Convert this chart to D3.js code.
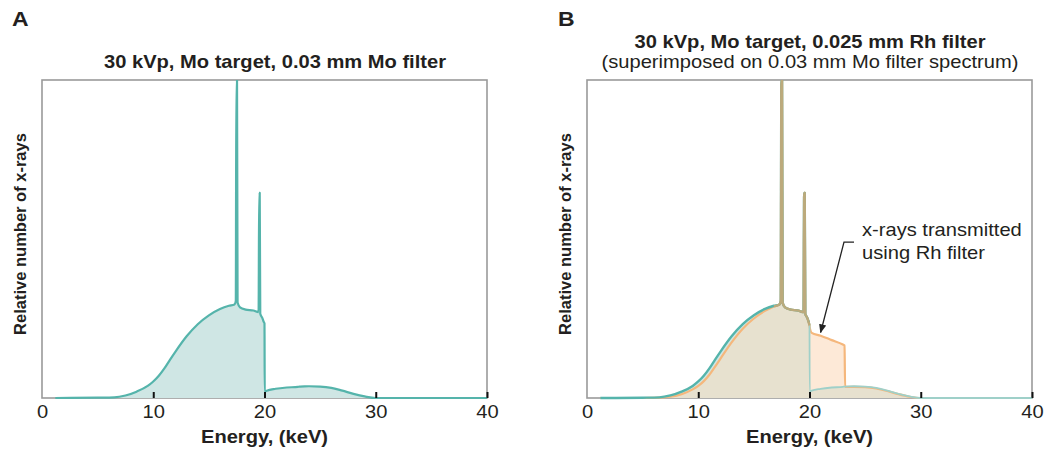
<!DOCTYPE html>
<html>
<head>
<meta charset="utf-8">
<script src="https://cdn.jsdelivr.net/npm/d3@7"></script>
<style>
  body { margin: 0; background: #fff; }
  svg { display: block; font-family: "Liberation Sans", Arial, Helvetica, sans-serif; }
</style>
</head>
<body>
<div id="chart"></div>
<script>
// spectrum: energy (keV) and relative counts (0-100, peaks clipped at top)
const energyKeV = [1.2, 5, 6.5, 7.5, 8.5, 9.5, 10, 10.5, 11, 11.5, 12, 13, 14, 15, 16, 16.8, 17.3, 17.42, 17.47, 17.53, 17.58,
  17.8, 18.3, 19, 19.47, 19.52, 19.57, 19.62, 19.8, 19.95, 20, 20.02, 20.2, 21, 22, 23, 23.15, 23.2,
  24, 25, 26, 27, 28, 29, 30, 40];
const moFilterCounts = [0, 0.1, 0.2, 0.8, 2.0, 3.8, 5.2, 7.0, 9.3, 12, 14.6, 19.4, 23.2, 26, 28, 29, 29.4, 30.5, 100, 100, 30,
  28.5, 27.8, 27.5, 27, 64.5, 64.5, 26.5, 25.2, 23.8, 23.5, 2, 2.3, 2.9, 3.3, 3.5, 3.6, 3.6,
  3.7, 3.6, 3.2, 2.3, 1.3, 0.5, 0, 0];
const rhFilterCounts = [0, 0, 0.1, 0.4, 1.2, 2.7, 3.8, 5.3, 7.3, 9.8, 12.4, 17.5, 21.8, 25, 27.4, 28.8, 29.4, 30.5, 100, 100, 30,
  28.5, 27.8, 27.5, 27, 64.5, 64.5, 26.5, 25.2, 23.5, 22.8, 22.3, 20.5, 19.6, 18.2, 16.8, 16.5, 3.5,
  3.5, 3.4, 3.0, 2.2, 1.2, 0.4, 0, 0];
const energyTicks = [0, 10, 20, 30, 40];

const COLORS = {
  teal: "#55b4ab",
  tealLight: "#9fd0c9",
  tealFill: "#cfe6e4",
  orange: "#f5b77c",
  peachFill: "#fde9d7",
  overlapFill: "#e7e1cf",
  khaki: "#bcaa7c",
  frame: "#9a9a9a",
  text: "#231f20",
};

const W = 1049, H = 450;
const TOP = 80, BOTTOM = 398;
const STRETCH = 1.15; // the figure's lettering is slightly wide

const svg = d3.select("#chart").append("svg")
  .attr("width", W)
  .attr("height", H);

const points = energyKeV.map((e, i) => ({ e, mo: moFilterCounts[i], rh: rhFilterCounts[i] }));

function wideText(g, x, y, str, size, weight, anchor) {
  return g.append("text")
    .attr("transform", `translate(${x},${y}) scale(${STRETCH},1)`)
    .attr("text-anchor", anchor || "middle")
    .attr("font-size", size)
    .attr("font-weight", weight || "normal")
    .attr("fill", COLORS.text)
    .text(str);
}

function drawPanel(id, left, right, withRh) {
  const x = d3.scaleLinear().domain([0, 40]).range([left, right]);
  const y = d3.scaleLinear().domain([0, 100]).range([BOTTOM, TOP]);
  const g = svg.append("g");

  g.append("clipPath").attr("id", "clip-" + id)
    .append("rect")
    .attr("x", left).attr("y", TOP)
    .attr("width", right - left).attr("height", BOTTOM - TOP + 2);

  g.append("rect")
    .attr("x", left).attr("y", TOP)
    .attr("width", right - left).attr("height", BOTTOM - TOP)
    .attr("fill", "#fff")
    .attr("stroke", COLORS.frame)
    .attr("stroke-width", 1.6);

  const plot = g.append("g").attr("clip-path", `url(#clip-${id})`);
  const curve = d3.curveMonotoneX;

  const area = key => d3.area().curve(curve).x(d => x(d.e)).y0(y(0)).y1(d => y(d[key]));
  const line = key => d3.line().curve(curve).x(d => x(d.e)).y(d => y(d[key]));

  if (!withRh) {
    plot.append("path").datum(points).attr("d", area("mo")).attr("fill", COLORS.tealFill);
    plot.append("path").datum(points).attr("d", line("mo"))
      .attr("fill", "none").attr("stroke", COLORS.teal).attr("stroke-width", 2.2)
      .attr("stroke-linejoin", "round");
  } else {
    const withMin = points.map(d => ({ ...d, both: Math.min(d.mo, d.rh) }));
    plot.append("path").datum(withMin).attr("d", area("mo")).attr("fill", COLORS.tealFill);
    plot.append("path").datum(withMin).attr("d", area("rh")).attr("fill", COLORS.peachFill);
    plot.append("path").datum(withMin).attr("d", area("both")).attr("fill", COLORS.overlapFill);

    plot.append("path").datum(withMin).attr("d", line("rh"))
      .attr("fill", "none").attr("stroke", COLORS.orange).attr("stroke-width", 2.2)
      .attr("stroke-linejoin", "round");

    // Mo spectrum: strong below the K-edge, faint where it sits under the Rh spectrum
    plot.append("path").datum(withMin)
      .attr("d", line("mo").defined(d => d.e >= 20))
      .attr("fill", "none").attr("stroke", COLORS.tealLight).attr("stroke-width", 1.8);
    plot.append("path").datum(withMin)
      .attr("d", line("mo").defined(d => d.e < 20))
      .attr("fill", "none").attr("stroke", COLORS.teal).attr("stroke-width", 2.4)
      .attr("stroke-linejoin", "round");

    // where both spectra coincide the two colours read as khaki
    plot.append("path").datum(withMin)
      .attr("d", line("rh").defined(d => d.e > 16.5 && d.e < 20.01 && Math.abs(d.mo - d.rh) < 1))
      .attr("fill", "none").attr("stroke", COLORS.khaki).attr("stroke-width", 2.4)
      .attr("stroke-linejoin", "round");
  }

  const axis = d3.axisBottom(x)
    .tickValues(energyTicks)
    .tickSize(-6)
    .tickPadding(8)
    .tickFormat(d3.format("d"));

  const ax = g.append("g").attr("transform", `translate(0,${BOTTOM})`).call(axis);
  ax.select(".domain").remove();
  ax.selectAll(".tick line")
    .attr("stroke", "#111")
    .attr("stroke-width", 2)
    .attr("opacity", d => (d === 0 ? 0 : 1));
  ax.selectAll(".tick text")
    .attr("font-size", 17.5)
    .attr("font-family", "Liberation Sans, Arial, sans-serif")
    .attr("fill", COLORS.text)
    .attr("transform", `scale(${STRETCH},1)`);

  wideText(g, (left + right) / 2, 443, "Energy, (keV)", 17.5, "bold");

  g.append("text")
    .attr("transform", `translate(${left - 16},234) rotate(-90)`)
    .attr("text-anchor", "middle")
    .attr("font-size", 16.5)
    .attr("font-weight", "bold")
    .attr("fill", COLORS.text)
    .text("Relative number of x-rays");

  return { g, x, y };
}

// Panel A
const panelA = drawPanel("a", 42, 487, false);
wideText(panelA.g, 12, 26, "A", 20, "bold", "start");
wideText(panelA.g, 275, 68, "30 kVp, Mo target, 0.03 mm Mo filter", 17.5, "bold");

// Panel B
const panelB = drawPanel("b", 587, 1032, true);
wideText(panelB.g, 558, 26, "B", 20, "bold", "start");
wideText(panelB.g, 810, 48, "30 kVp, Mo target, 0.025 mm Rh filter", 17.5, "bold");
wideText(panelB.g, 810, 68, "(superimposed on 0.03 mm Mo filter spectrum)", 17.5);

// annotation arrow pointing at the Rh-filter plateau
svg.append("defs").append("marker")
  .attr("id", "arrow")
  .attr("viewBox", "0 -5 10 10")
  .attr("refX", 9)
  .attr("refY", 0)
  .attr("orient", "auto")
  .attr("markerWidth", 7)
  .attr("markerHeight", 7)
  .append("path")
  .attr("d", "M0,-4 L10,0 L0,4 Z")
  .attr("fill", "#222");

const bx = panelB.x, by = panelB.y;
svg.append("path")
  .attr("d", d3.line()([[bx(24.0), by(49)], [bx(23.1), by(49)], [bx(21.0), by(20.6)]]))
  .attr("fill", "none")
  .attr("stroke", "#222")
  .attr("stroke-width", 1.3)
  .attr("marker-end", "url(#arrow)");

wideText(svg, 862, 236, "x-rays transmitted", 17.5, "normal", "start");
wideText(svg, 862, 259, "using Rh filter", 17.5, "normal", "start");
</script>
</body>
</html>
